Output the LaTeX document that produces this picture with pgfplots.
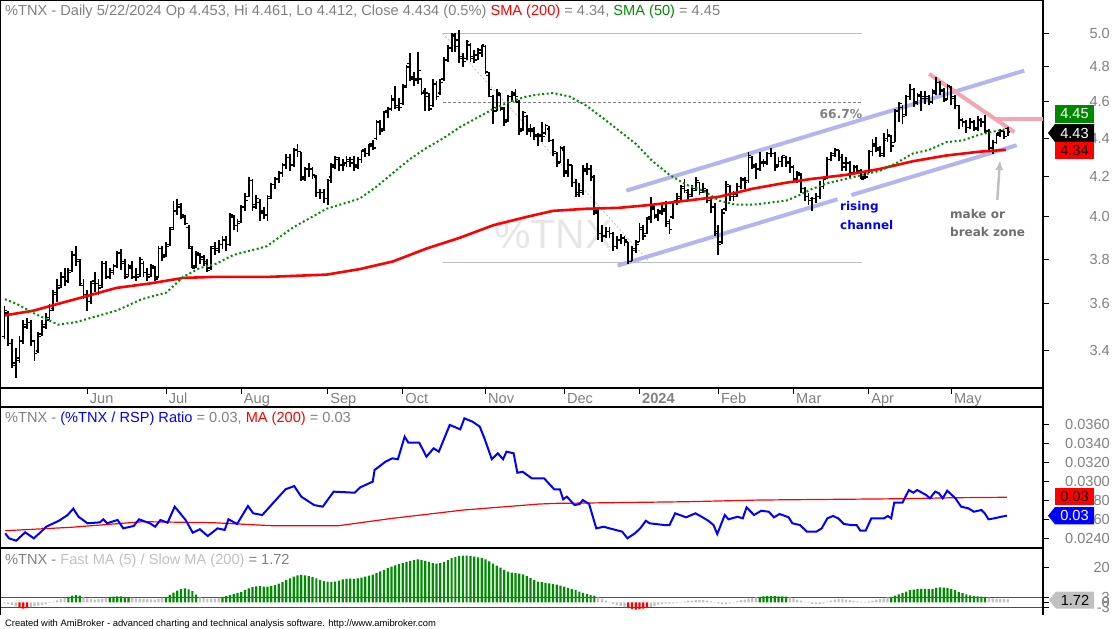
\documentclass[border=0pt]{standalone}
\usepackage{fontspec}
\setmainfont{Liberation Sans}
\newfontfamily\dvs{DejaVu Sans}
\usepackage{pgfplots}
\pgfplotsset{compat=1.18}
\usepackage{pgfplotstable}
\usetikzlibrary{arrows.meta}
\definecolor{tgray}{RGB}{128,128,128}
\definecolor{lgray}{RGB}{192,192,192}
\definecolor{fibgray}{RGB}{190,190,190}
\definecolor{lav}{RGB}{180,180,242}
\definecolor{pinkl}{RGB}{245,164,180}
\definecolor{smagreen}{RGB}{0,140,0}
\definecolor{boxgreen}{RGB}{0,136,0}
\definecolor{wm}{RGB}{230,230,230}
\definecolor{ann}{RGB}{110,110,110}
\newcommand{\fs}{\fontsize{14.6}{17}\selectfont}
\pgfdeclareplotmark{ctick}{\pgfpathmoveto{\pgfqpoint{0pt}{0pt}}\pgfpathlineto{\pgfqpoint{2.8pt}{0pt}}\pgfusepathqstroke}
\pgfdeclareplotmark{otick}{\pgfpathmoveto{\pgfqpoint{-2.8pt}{0pt}}\pgfpathlineto{\pgfqpoint{0pt}{0pt}}\pgfusepathqstroke}

\pgfplotstableread{
d o h l c
0 3.46 3.59 3.45 3.57
1 3.56 3.57 3.42 3.43
2 3.43 3.45 3.33 3.35
3 3.34 3.41 3.29 3.37
4 3.36 3.46 3.35 3.44
5 3.44 3.53 3.43 3.50
6 3.51 3.54 3.49 3.52
7 3.52 3.53 3.42 3.44
8 3.44 3.44 3.36 3.39
9 3.40 3.48 3.39 3.46
10 3.47 3.53 3.46 3.50
11 3.51 3.56 3.49 3.53
12 3.54 3.60 3.53 3.57
13 3.58 3.66 3.57 3.64
14 3.65 3.71 3.61 3.67
15 3.68 3.74 3.67 3.72
16 3.72 3.76 3.68 3.70
17 3.70 3.76 3.69 3.74
18 3.75 3.84 3.74 3.82
19 3.82 3.86 3.77 3.80
20 3.79 3.80 3.68 3.69
21 3.68 3.71 3.62 3.64
22 3.64 3.66 3.57 3.61
23 3.61 3.70 3.60 3.69
24 3.70 3.74 3.65 3.69
25 3.69 3.71 3.64 3.67
26 3.68 3.79 3.67 3.78
27 3.78 3.79 3.71 3.72
28 3.72 3.76 3.71 3.74
29 3.75 3.78 3.73 3.77
30 3.77 3.84 3.76 3.83
31 3.83 3.85 3.75 3.79
32 3.78 3.80 3.71 3.72
33 3.73 3.78 3.72 3.77
34 3.76 3.79 3.71 3.72
35 3.72 3.76 3.70 3.72
36 3.73 3.81 3.72 3.80
37 3.78 3.79 3.72 3.74
38 3.74 3.76 3.70 3.72
39 3.73 3.78 3.72 3.77
40 3.76 3.77 3.70 3.71
41 3.72 3.86 3.72 3.85
42 3.85 3.86 3.79 3.81
43 3.82 3.88 3.81 3.86
44 3.87 3.95 3.86 3.94
45 3.95 4.08 3.94 4.03
46 4.03 4.09 4.01 4.06
47 4.05 4.07 3.99 4.01
48 4.00 4.01 3.96 3.97
49 3.95 3.96 3.85 3.86
50 3.85 3.86 3.76 3.76
51 3.77 3.84 3.76 3.83
52 3.82 3.83 3.78 3.81
53 3.80 3.82 3.77 3.79
54 3.78 3.80 3.74 3.75
55 3.76 3.86 3.75 3.85
56 3.86 3.88 3.82 3.84
57 3.85 3.89 3.83 3.87
58 3.87 3.91 3.85 3.89
59 3.89 3.91 3.84 3.87
60 3.87 4.02 3.86 4.01
61 4.00 4.01 3.94 3.96
62 3.96 3.99 3.93 3.97
63 3.98 4.06 3.97 4.05
64 4.05 4.12 4.03 4.08
65 4.10 4.20 4.10 4.18
66 4.18 4.19 4.03 4.05
67 4.06 4.11 4.04 4.09
68 4.07 4.09 3.98 4.02
69 4.03 4.05 3.99 4.01
70 4.01 4.11 3.98 4.09
71 4.10 4.17 4.09 4.16
72 4.16 4.20 4.14 4.19
73 4.19 4.23 4.17 4.22
74 4.22 4.27 4.20 4.26
75 4.26 4.32 4.24 4.30
76 4.30 4.32 4.23 4.26
77 4.26 4.35 4.25 4.34
78 4.34 4.37 4.30 4.33
79 4.33 4.33 4.18 4.19
80 4.20 4.25 4.18 4.24
81 4.24 4.27 4.20 4.24
82 4.24 4.25 4.19 4.21
83 4.20 4.21 4.10 4.12
84 4.12 4.14 4.09 4.12
85 4.12 4.14 4.07 4.09
86 4.09 4.19 4.06 4.18
87 4.20 4.27 4.17 4.26
88 4.25 4.31 4.24 4.30
89 4.29 4.30 4.23 4.26
90 4.26 4.29 4.23 4.26
91 4.27 4.31 4.25 4.29
92 4.28 4.30 4.25 4.27
93 4.29 4.31 4.23 4.25
94 4.26 4.30 4.24 4.29
95 4.29 4.34 4.27 4.33
96 4.34 4.35 4.30 4.32
97 4.32 4.37 4.31 4.37
98 4.36 4.39 4.34 4.35
99 4.40 4.50 4.39 4.49
100 4.49 4.50 4.42 4.44
101 4.45 4.55 4.44 4.54
102 4.55 4.57 4.51 4.56
103 4.56 4.64 4.55 4.61
104 4.62 4.69 4.56 4.57
105 4.58 4.62 4.55 4.57
106 4.59 4.70 4.58 4.68
107 4.69 4.81 4.68 4.80
108 4.82 4.88 4.72 4.73
109 4.74 4.77 4.69 4.72
110 4.73 4.89 4.70 4.78
111 4.73 4.73 4.64 4.65
112 4.66 4.68 4.55 4.65
113 4.63 4.65 4.55 4.56
114 4.58 4.73 4.57 4.70
115 4.70 4.72 4.61 4.63
116 4.65 4.73 4.64 4.71
117 4.73 4.86 4.72 4.84
118 4.84 4.93 4.83 4.91
119 4.91 5.00 4.89 4.99
120 4.98 5.00 4.89 4.92
121 4.96 5.02 4.82 4.85
122 4.86 4.88 4.80 4.83
123 4.85 4.96 4.84 4.95
124 4.93 4.94 4.83 4.85
125 4.86 4.90 4.82 4.84
126 4.87 4.91 4.84 4.88
127 4.90 4.93 4.86 4.93
128 4.92 4.93 4.76 4.77
129 4.75 4.77 4.63 4.67
130 4.63 4.64 4.48 4.57
131 4.55 4.67 4.55 4.65
132 4.64 4.65 4.55 4.57
133 4.56 4.57 4.47 4.49
134 4.50 4.64 4.49 4.63
135 4.63 4.66 4.60 4.65
136 4.64 4.67 4.60 4.63
137 4.60 4.61 4.42 4.44
138 4.45 4.55 4.44 4.54
139 4.52 4.53 4.42 4.45
140 4.44 4.48 4.41 4.44
141 4.45 4.46 4.39 4.42
142 4.41 4.43 4.36 4.41
143 4.42 4.49 4.38 4.41
144 4.43 4.48 4.42 4.47
145 4.45 4.47 4.38 4.39
146 4.39 4.40 4.31 4.33
147 4.32 4.33 4.25 4.27
148 4.28 4.36 4.27 4.35
149 4.34 4.36 4.20 4.22
150 4.23 4.29 4.20 4.26
151 4.26 4.26 4.15 4.17
152 4.17 4.19 4.10 4.11
153 4.12 4.17 4.10 4.13
154 4.12 4.26 4.11 4.23
155 4.24 4.27 4.21 4.24
156 4.24 4.26 4.18 4.20
157 4.20 4.21 4.01 4.03
158 4.02 4.04 3.89 3.92
159 3.92 3.96 3.88 3.91
160 3.91 3.95 3.90 3.93
161 3.93 3.95 3.90 3.92
162 3.92 3.93 3.84 3.86
163 3.86 3.91 3.85 3.89
164 3.89 3.92 3.87 3.90
165 3.90 3.91 3.86 3.89
166 3.88 3.88 3.78 3.79
167 3.79 3.86 3.79 3.85
168 3.84 3.89 3.83 3.87
169 3.88 3.97 3.88 3.94
170 3.95 3.96 3.89 3.91
171 3.92 4.00 3.92 3.99
172 4.00 4.10 3.97 4.05
173 4.04 4.07 3.99 4.01
174 4.00 4.04 3.98 4.02
175 4.03 4.06 4.01 4.03
176 4.04 4.08 3.95 3.97
177 3.98 3.99 3.92 3.94
178 4.00 4.08 3.99 4.07
179 4.08 4.12 4.06 4.10
180 4.09 4.16 4.08 4.14
181 4.15 4.19 4.12 4.13
182 4.12 4.14 4.08 4.10
183 4.11 4.16 4.10 4.13
184 4.14 4.20 4.13 4.18
185 4.17 4.17 4.11 4.12
186 4.13 4.17 4.12 4.14
187 4.13 4.14 4.07 4.08
188 4.08 4.09 4.02 4.05
189 4.05 4.07 3.91 3.92
190 3.93 3.96 3.82 3.87
191 3.88 4.04 3.87 4.02
192 4.04 4.18 4.03 4.16
193 4.15 4.16 4.08 4.10
194 4.10 4.13 4.08 4.10
195 4.11 4.17 4.10 4.15
196 4.15 4.20 4.14 4.18
197 4.19 4.20 4.14 4.17
198 4.18 4.33 4.17 4.31
199 4.30 4.31 4.24 4.26
200 4.25 4.27 4.19 4.24
201 4.24 4.33 4.23 4.28
202 4.27 4.29 4.25 4.27
203 4.28 4.33 4.26 4.32
204 4.32 4.35 4.30 4.32
205 4.32 4.33 4.23 4.25
206 4.26 4.30 4.25 4.28
207 4.28 4.31 4.25 4.31
208 4.30 4.31 4.25 4.27
209 4.28 4.30 4.22 4.25
210 4.25 4.26 4.17 4.18
211 4.19 4.23 4.17 4.22
212 4.21 4.22 4.12 4.14
213 4.14 4.15 4.08 4.10
214 4.10 4.12 4.06 4.08
215 4.09 4.10 4.03 4.09
216 4.09 4.12 4.07 4.10
217 4.10 4.18 4.09 4.15
218 4.15 4.20 4.14 4.19
219 4.20 4.30 4.19 4.29
220 4.29 4.33 4.28 4.31
221 4.32 4.35 4.30 4.34
222 4.34 4.34 4.28 4.30
223 4.30 4.32 4.23 4.27
224 4.25 4.30 4.23 4.27
225 4.27 4.28 4.20 4.22
226 4.22 4.26 4.22 4.25
227 4.25 4.26 4.22 4.23
228 4.23 4.24 4.19 4.19
229 4.20 4.23 4.19 4.20
230 4.23 4.34 4.22 4.33
231 4.33 4.40 4.31 4.36
232 4.37 4.41 4.33 4.35
233 4.34 4.36 4.30 4.31
234 4.32 4.43 4.30 4.39
235 4.40 4.45 4.38 4.42
236 4.41 4.42 4.33 4.36
237 4.38 4.56 4.38 4.55
238 4.55 4.60 4.49 4.59
239 4.57 4.58 4.48 4.52
240 4.53 4.64 4.52 4.63
241 4.63 4.70 4.61 4.67
242 4.67 4.68 4.57 4.59
243 4.60 4.65 4.58 4.64
244 4.63 4.66 4.55 4.62
245 4.63 4.66 4.59 4.62
246 4.63 4.64 4.58 4.60
247 4.60 4.67 4.59 4.65
248 4.66 4.74 4.64 4.71
249 4.71 4.72 4.64 4.67
250 4.66 4.68 4.60 4.61
251 4.62 4.70 4.61 4.69
252 4.68 4.69 4.58 4.63
253 4.62 4.64 4.56 4.58
254 4.58 4.58 4.45 4.50
255 4.50 4.51 4.46 4.49
256 4.49 4.50 4.43 4.46
257 4.46 4.51 4.45 4.49
258 4.49 4.50 4.44 4.46
259 4.45 4.52 4.44 4.50
260 4.50 4.51 4.46 4.49
261 4.49 4.53 4.43 4.44
262 4.44 4.45 4.33 4.35
263 4.35 4.39 4.32 4.38
264 4.38 4.43 4.37 4.42
265 4.43 4.45 4.41 4.44
266 4.44 4.44 4.40 4.41
267 4.453 4.461 4.412 4.434
}\price

\pgfplotstableread[row sep=\\]{
d v\\
0 -0.6\\ 1 -1.0\\ 2 -1.5\\ 3 -2.4\\ 4 -3.3\\ 5 -3.6\\ 6 -3.4\\ 7 -2.8\\ 8 -2.3\\ 9 -1.9\\
10 -1.5\\ 11 -1.0\\ 12 -0.4\\ 13 0.4\\ 14 1.1\\ 15 1.8\\ 16 2.5\\ 17 3.1\\ 18 3.8\\ 19 4.2\\
20 3.9\\ 21 2.8\\ 22 2.3\\ 23 1.8\\ 24 1.6\\ 25 1.8\\ 26 2.2\\ 27 2.6\\ 28 3.1\\ 29 3.3\\
30 3.5\\ 31 3.4\\ 32 3.2\\ 33 3.05\\ 34 2.6\\ 35 2.3\\ 36 2.2\\ 37 2.0\\ 38 1.8\\ 39 1.7\\
40 1.6\\ 41 2.0\\ 42 2.6\\ 43 3.2\\ 44 4.3\\ 45 5.6\\ 46 6.8\\ 47 7.6\\ 48 8.1\\ 49 7.5\\
50 6.5\\ 51 4.5\\ 52 2.9\\ 53 2.4\\ 54 2.2\\ 55 2.2\\ 56 2.1\\ 57 2.5\\ 58 3.1\\ 59 3.6\\
60 4.2\\ 61 4.8\\ 62 5.4\\ 63 6.1\\ 64 7.0\\ 65 8.0\\ 66 8.8\\ 67 9.2\\ 68 9.3\\ 69 9.1\\
70 9.0\\ 71 9.4\\ 72 10.0\\ 73 10.8\\ 74 11.8\\ 75 12.9\\ 76 13.9\\ 77 14.8\\ 78 15.5\\ 79 15.8\\
80 15.6\\ 81 15.2\\ 82 14.6\\ 83 13.8\\ 84 13.0\\ 85 12.3\\ 86 12.0\\ 87 11.8\\ 88 12.0\\ 89 12.6\\
90 13.2\\ 91 13.6\\ 92 13.7\\ 93 13.6\\ 94 13.8\\ 95 14.3\\ 96 14.8\\ 97 15.4\\ 98 16.0\\ 99 17.0\\
100 17.9\\ 101 18.8\\ 102 19.7\\ 103 20.6\\ 104 21.4\\ 105 22.0\\ 106 22.6\\ 107 23.4\\ 108 24.0\\ 109 24.4\\
110 24.8\\ 111 24.6\\ 112 24.0\\ 113 23.3\\ 114 22.7\\ 115 22.4\\ 116 22.6\\ 117 23.4\\ 118 24.4\\ 119 25.5\\
120 26.3\\ 121 26.8\\ 122 27.0\\ 123 27.0\\ 124 26.8\\ 125 26.4\\ 126 26.0\\ 127 25.6\\ 128 24.8\\ 129 23.7\\
130 22.4\\ 131 21.2\\ 132 20.0\\ 133 18.8\\ 134 17.8\\ 135 17.2\\ 136 16.8\\ 137 16.6\\ 138 16.2\\ 139 15.2\\
140 14.0\\ 141 12.8\\ 142 12.0\\ 143 11.6\\ 144 11.2\\ 145 10.9\\ 146 10.6\\ 147 10.2\\ 148 9.7\\ 149 9.0\\
150 8.3\\ 151 7.6\\ 152 7.0\\ 153 6.2\\ 154 5.4\\ 155 4.8\\ 156 4.2\\ 157 3.8\\ 158 2.8\\ 159 2.2\\
160 1.0\\ 161 -0.2\\ 162 -1.0\\ 163 -1.6\\ 164 -2.2\\ 165 -2.8\\ 166 -3.4\\ 167 -3.9\\ 168 -4.2\\ 169 -4.0\\
170 -3.6\\ 171 -3.2\\ 172 -2.6\\ 173 -2.0\\ 174 -1.4\\ 175 -1.0\\ 176 -0.8\\ 177 -0.8\\ 178 -0.6\\ 179 -0.3\\
180 0.2\\ 181 0.6\\ 182 0.9\\ 183 1.0\\ 184 1.2\\ 185 1.2\\ 186 1.2\\ 187 1.0\\ 188 0.6\\ 189 0.1\\
190 -0.8\\ 191 -1.2\\ 192 -1.0\\ 193 -0.6\\ 194 -0.2\\ 195 0.5\\ 196 1.2\\ 197 1.6\\ 198 2.1\\ 199 2.6\\
200 2.9\\ 201 3.2\\ 202 3.4\\ 203 3.6\\ 204 3.7\\ 205 3.6\\ 206 3.5\\ 207 3.4\\ 208 3.3\\ 209 2.9\\
210 2.3\\ 211 1.6\\ 212 0.9\\ 213 0.2\\ 214 -0.4\\ 215 -0.9\\ 216 -1.1\\ 217 -1.0\\ 218 -0.6\\ 219 0.2\\
220 0.9\\ 221 1.5\\ 222 2.0\\ 223 2.0\\ 224 1.6\\ 225 1.3\\ 226 0.9\\ 227 0.6\\ 228 0.3\\ 229 0.2\\
230 0.5\\ 231 1.0\\ 232 1.5\\ 233 1.9\\ 234 2.3\\ 235 2.8\\ 236 3.2\\ 237 3.8\\ 238 4.6\\ 239 5.4\\
240 6.2\\ 241 7.0\\ 242 7.4\\ 243 7.6\\ 244 7.7\\ 245 7.7\\ 246 7.6\\ 247 7.8\\ 248 8.3\\ 249 8.6\\
250 8.5\\ 251 8.2\\ 252 7.7\\ 253 7.0\\ 254 6.1\\ 255 5.3\\ 256 4.6\\ 257 4.0\\ 258 3.6\\ 259 3.4\\
260 3.3\\ 261 3.1\\ 262 2.7\\ 263 2.3\\ 264 2.0\\ 265 1.9\\ 266 1.8\\ 267 1.72\\
}\hist

\pgfplotsset{panel/.style={scale only axis, width=1043pt, xmin=-1.2, xmax=276.4,
  tick align=outside, major tick length=6pt, ytick pos=right, yticklabel pos=right,
  axis line style={black, line width=1.2pt}, tick style={black, line width=1pt},
  tick label style={font=\fs, text=tgray},
  yticklabel style={anchor=east, inner sep=0pt, xshift=61pt},
  scaled y ticks=false, minor y tick num=0, clip mode=individual}}

\begin{document}
\begin{tikzpicture}
\useasboundingbox (0,0) rectangle (1112pt,-629pt);
\node[anchor=base west, inner sep=0pt, text=wm, font=\fontsize{41}{46}\selectfont] at (494pt,-248pt) {\%TNX};

\begin{axis}[panel, at={(0pt,0pt)}, anchor=north west, height=388pt,
  ymode=log, ymin=3.25, ymax=5.206,
  xtick={22,43,63,86,106,128,149,169,190,210,230,252},
  xticklabels={Jun,Jul,Aug,Sep,Oct,Nov,Dec,\textbf{2024},Feb,Mar,Apr,May},
  xtick pos=left, xticklabel pos=left,
  xticklabel style={anchor=north west, inner sep=0pt, xshift=2.5pt, yshift=1pt},
  ytick={3.4,3.6,3.8,4.0,4.2,4.4,4.6,4.8,5.0},
  yticklabels={3.4,3.6,3.8,4.0,4.2,4.4,4.6,4.8,5.0}]
% fibonacci
\addplot[fibgray, line width=1pt] coordinates {(116.6,5.0) (228.2,5.0)};
\addplot[fibgray, line width=1pt] coordinates {(116.6,3.786) (228.2,3.786)};
\addplot[tgray, line width=0.8pt, dash pattern=on 3pt off 2pt] coordinates {(116.6,4.597) (228.2,4.597)};
\addplot[fibgray, line width=0.8pt, dash pattern=on 2pt off 2pt] coordinates {(116.6,5.0) (171.7,3.786)};
% channel
\addplot[lav, line width=4pt] coordinates {(165.5,4.130) (271.4,4.778)};
\addplot[lav, line width=4pt] coordinates {(163.2,3.771) (221.7,4.087)};
\addplot[lav, line width=4pt] coordinates {(225.4,4.108) (269.4,4.364)};
\addplot[pinkl, line width=4pt] coordinates {(246.1,4.759) (268.8,4.434)};
\addplot[pinkl, line width=4pt] coordinates {(263.7,4.504) (276.4,4.504)};
% bars
\addplot[only marks, mark=ctick, mark options={black, line width=1.5pt},
  error bars/.cd, y dir=both, y explicit, error mark=none,
  error bar style={black, line width=1.8pt}]
  table[x=d, y=c, y error plus expr=\thisrow{h}-\thisrow{c}, y error minus expr=\thisrow{c}-\thisrow{l}]{\price};
\addplot[only marks, mark=otick, mark options={black, line width=1.5pt}] table[x=d, y=o]{\price};
% SMA 200
\addplot[red, line width=2.6pt] coordinates {(0.1,3.55) (7.7,3.57) (12.1,3.59) (21,3.63) (29.8,3.67) (38.7,3.69) (47.6,3.715) (56.4,3.72) (65.3,3.72) (70.6,3.72) (85.7,3.73) (94.5,3.755) (103.4,3.79) (112.3,3.85) (121.1,3.90) (130,3.96) (138.9,4.00) (146,4.03) (154.8,4.04) (163.7,4.045) (172.5,4.06) (181.4,4.08) (190.3,4.10) (199.2,4.14) (208,4.17) (215.1,4.19) (224,4.21) (232.9,4.24) (241.7,4.28) (250.6,4.31) (259.4,4.33) (266.5,4.34)};
% SMA 50
\addplot[smagreen, line width=2pt, dash pattern=on 2pt off 2.5pt] coordinates {(0.1,3.62) (3.2,3.60) (7.7,3.56) (10.3,3.54) (14.3,3.51) (18.8,3.52) (23.2,3.54) (29.8,3.57) (36.5,3.62) (43.1,3.65) (47.6,3.72) (52,3.76) (56.4,3.78) (60.9,3.82) (65.3,3.84) (69.7,3.86) (76.8,3.95) (85.7,4.04) (94.5,4.09) (99,4.15) (103.4,4.22) (107.8,4.29) (112.3,4.35) (116.7,4.40) (121.1,4.46) (125.6,4.51) (130,4.56) (134.4,4.60) (138.9,4.63) (141.5,4.64) (146,4.65) (150.4,4.63) (154.8,4.58) (159.3,4.51) (163.7,4.44) (168.1,4.37) (172.5,4.28) (177,4.21) (181.4,4.16) (185.9,4.13) (190.3,4.08) (194.7,4.06) (199.2,4.06) (203.6,4.07) (208,4.08) (210.7,4.10) (215.1,4.14) (219.5,4.17) (224,4.19) (228.4,4.21) (232.9,4.23) (237.3,4.27) (241.7,4.32) (246.1,4.34) (250.6,4.38) (255,4.39) (259.4,4.42) (263.9,4.44) (266.5,4.45)};
\end{axis}

\begin{axis}[panel, at={(0pt,-407pt)}, anchor=north west, height=141pt,
  ymin=0.02298, ymax=0.03782, xtick=\empty,
  ytick={0.024,0.026,0.028,0.030,0.032,0.034,0.036},
  yticklabels={0.0240,0.0260,0.0280,0.0300,0.0320,0.0340,0.0360}]
\addplot[red, line width=1.2pt] coordinates {(0.2,0.0248) (17.8,0.02516) (36.8,0.02575) (55.7,0.02564) (71,0.02533) (89,0.02533) (103.2,0.0261) (122.2,0.02698) (142.4,0.02761) (146.9,0.02768) (161.8,0.02775) (181.4,0.02785) (201,0.02803) (220.5,0.0281) (239.9,0.02817) (252.5,0.02827) (266.8,0.02832)};
\addplot[blue, line width=2pt] coordinates {(0.2,0.02453) (1.2,0.0240) (3.1,0.02375) (5.5,0.02463) (7.8,0.0240) (9.3,0.02453) (11.1,0.02522) (14.5,0.02585) (16.8,0.02645) (18.3,0.02712) (19.7,0.02627) (22.1,0.02558) (25.4,0.02568) (26.3,0.026) (27.3,0.02558) (30.1,0.02593) (31.6,0.02505) (34.4,0.0253) (35.8,0.026) (38.7,0.02558) (40.1,0.02522) (41.5,0.02593) (43.4,0.02564) (45.3,0.02733) (48.2,0.02593) (50.1,0.02459) (52,0.02495) (54.1,0.02424) (56.7,0.02505) (58.6,0.02488) (59.6,0.026) (61.9,0.02551) (64.8,0.0274) (66.2,0.02663) (68.6,0.02645) (71,0.0275) (74.8,0.02916) (77.1,0.0295) (79,0.02838) (82.4,0.0275) (84.7,0.02733) (87.6,0.02891) (93.2,0.0288) (94.7,0.02937) (98,0.02996) (98.5,0.03119) (101.4,0.03206) (103.2,0.03242) (104.7,0.03232) (106.5,0.0347) (107.5,0.03406) (110.4,0.03406) (112.3,0.03259) (114.2,0.03347) (115.6,0.03312) (118.5,0.03593) (121.3,0.03547) (122.4,0.03663) (124.6,0.03627) (126.5,0.03575) (127.9,0.03435) (129.7,0.03232) (131.3,0.03295) (132.7,0.03232) (133.6,0.03312) (135.5,0.03295) (136.5,0.0309) (137.9,0.03101) (140.3,0.03032) (143.6,0.03032) (146.3,0.02916) (147.8,0.02916) (148.7,0.02811) (149.7,0.02838) (151.7,0.0275) (153.1,0.02761) (153.9,0.02803) (155.6,0.02761) (157.5,0.02505) (159.5,0.02522) (161,0.02505) (164.4,0.0247) (165.8,0.0240) (167.8,0.02453) (169.2,0.02505) (170.7,0.02585) (171.7,0.02558) (175.6,0.0254) (177,0.0254) (178.5,0.02663) (181.4,0.02621) (183.9,0.02663) (185.8,0.02621) (187.3,0.02585) (188.7,0.0254) (189.7,0.02445) (191.7,0.02645) (192.7,0.026) (195.1,0.02627) (196.5,0.0261) (197.5,0.02726) (199.5,0.02645) (201.4,0.0269) (203.4,0.0268) (204.8,0.02621) (206.3,0.02656) (208.7,0.02621) (209.7,0.02558) (211.7,0.0254) (213.6,0.0247) (216.1,0.0247) (217.5,0.02505) (219,0.0261) (220.5,0.02635) (221.9,0.0261) (223.4,0.02551) (225.3,0.0254) (226.8,0.0254) (227.8,0.0248) (229.2,0.0248) (230.7,0.0261) (234.1,0.0261) (235.1,0.02635) (236,0.0261) (236.8,0.02775) (239,0.02775) (240.7,0.02908) (241.9,0.0288) (242.9,0.02908) (245.3,0.02856) (246.3,0.02821) (247.7,0.02891) (248.7,0.02874) (249.7,0.02821) (250.9,0.02901) (253.1,0.02821) (254.6,0.02733) (256.5,0.02716) (258,0.0268) (260,0.02698) (260.9,0.02663) (261.9,0.026) (263.4,0.0261) (265.3,0.02627) (266.8,0.02638)};
\end{axis}

\begin{axis}[panel, at={(0pt,-548pt)}, anchor=north west, height=67pt,
  ymin=-7.34, ymax=31.39, xtick=\empty, axis line style={draw=none},
  ytick={-3,0,3,20}, yticklabels={-3,0,3,20}]
\addplot[smagreen, line width=1pt] coordinates {(-1.2,3) (276.4,3)};
\addplot[red, line width=1pt] coordinates {(-1.2,-3) (276.4,-3)};
\addplot[ybar, bar width=2.2pt, bar shift=0pt, fill=smagreen, draw=none, restrict y to domain=3:100] table[x=d,y=v]{\hist};
\addplot[ybar, bar width=2.2pt, bar shift=0pt, fill=lgray, draw=none, restrict y to domain=-3:3] table[x=d,y=v]{\hist};
\addplot[ybar, bar width=2.2pt, bar shift=0pt, fill=red, draw=none, restrict y to domain=-100:-3] table[x=d,y=v]{\hist};
\end{axis}

% frame pieces
\draw[black, line width=1.2pt] (0,-388pt) -- (0,-407pt) (1043pt,-388pt) -- (1043pt,-407pt);
\draw[black, line width=1.2pt] (0,-548pt) -- (0,-615pt) (1043pt,-548pt) -- (1043pt,-615pt);

% titles
\node[anchor=base west, inner sep=0pt, font=\fs] at (5pt,-16pt) {\textcolor{tgray}{\%TNX - Daily 5/22/2024 Op 4.453, Hi 4.461, Lo 4.412, Close 4.434 (0.5\%)} \textcolor{red}{SMA (200)} \textcolor{tgray}{= 4.34,} \textcolor{smagreen}{SMA (50)} \textcolor{tgray}{= 4.45}};
\node[anchor=base west, inner sep=0pt, font=\fs] at (5pt,-422pt) {\textcolor{tgray}{\%TNX -} \textcolor{blue}{(\%TNX / RSP) Ratio} \textcolor{tgray}{= 0.03,} \textcolor{red}{MA (200)} \textcolor{tgray}{= 0.03}};
\node[anchor=base west, inner sep=0pt, font=\fs] at (5pt,-564pt) {\textcolor{tgray}{\%TNX -} \textcolor{lgray}{Fast MA (5) / Slow MA (200)} \textcolor{tgray}{= 1.72}};
\node[anchor=base west, inner sep=0pt, font=\fontsize{9.4}{11}\selectfont] at (5pt,-626.5pt) {Created with AmiBroker - advanced charting and technical analysis software. http://www.amibroker.com};

% annotations
\node[anchor=base east, inner sep=0pt, text=tgray, font=\dvs\bfseries\fontsize{12.3}{14}\selectfont] at (862.5pt,-118.3pt) {66.7\%};
\node[anchor=base west, inner sep=0pt, text=blue, font=\dvs\bfseries\fontsize{12}{14}\selectfont] at (840pt,-210pt) {rising};
\node[anchor=base west, inner sep=0pt, text=blue, font=\dvs\bfseries\fontsize{12}{14}\selectfont] at (840pt,-229pt) {channel};
\node[anchor=base west, inner sep=0pt, text=ann, font=\dvs\bfseries\fontsize{12}{14}\selectfont] at (950pt,-218.3pt) {make or};
\node[anchor=base west, inner sep=0pt, text=ann, font=\dvs\bfseries\fontsize{12}{14}\selectfont] at (950pt,-236.7pt) {break zone};
\draw[lgray, line width=2.5pt, -{Latex[length=10pt,width=8pt]}] (997.3pt,-200pt) -- (1000pt,-160pt);

% value boxes
\fill[boxgreen] (1055pt,-105pt) rectangle (1094pt,-123pt);
\node[text=white, font=\fs, inner sep=0pt] at (1074.5pt,-114pt) {4.45};
\fill[black] (1048pt,-133pt) -- (1055pt,-124pt) -- (1094pt,-124pt) -- (1094pt,-142pt) -- (1055pt,-142pt) -- cycle;
\node[text=white, font=\fs, inner sep=0pt] at (1074.5pt,-133pt) {4.43};
\fill[red] (1055pt,-142pt) rectangle (1094pt,-159pt);
\node[text=black, font=\fs, inner sep=0pt] at (1074.5pt,-150.5pt) {4.34};
\fill[red] (1055pt,-488pt) rectangle (1094pt,-505pt);
\node[text=black, font=\fs, inner sep=0pt] at (1074.5pt,-496.5pt) {0.03};
\fill[blue] (1048pt,-515.7pt) -- (1055pt,-507pt) -- (1094pt,-507pt) -- (1094pt,-524.4pt) -- (1055pt,-524.4pt) -- cycle;
\node[text=white, font=\fs, inner sep=0pt] at (1074.5pt,-515.7pt) {0.03};
\fill[lgray] (1049pt,-600pt) -- (1056pt,-591.5pt) -- (1094pt,-591.5pt) -- (1094pt,-608.5pt) -- (1056pt,-608.5pt) -- cycle;
\node[text=black, font=\fs, inner sep=0pt] at (1075pt,-600pt) {1.72};
\end{tikzpicture}
\end{document}
